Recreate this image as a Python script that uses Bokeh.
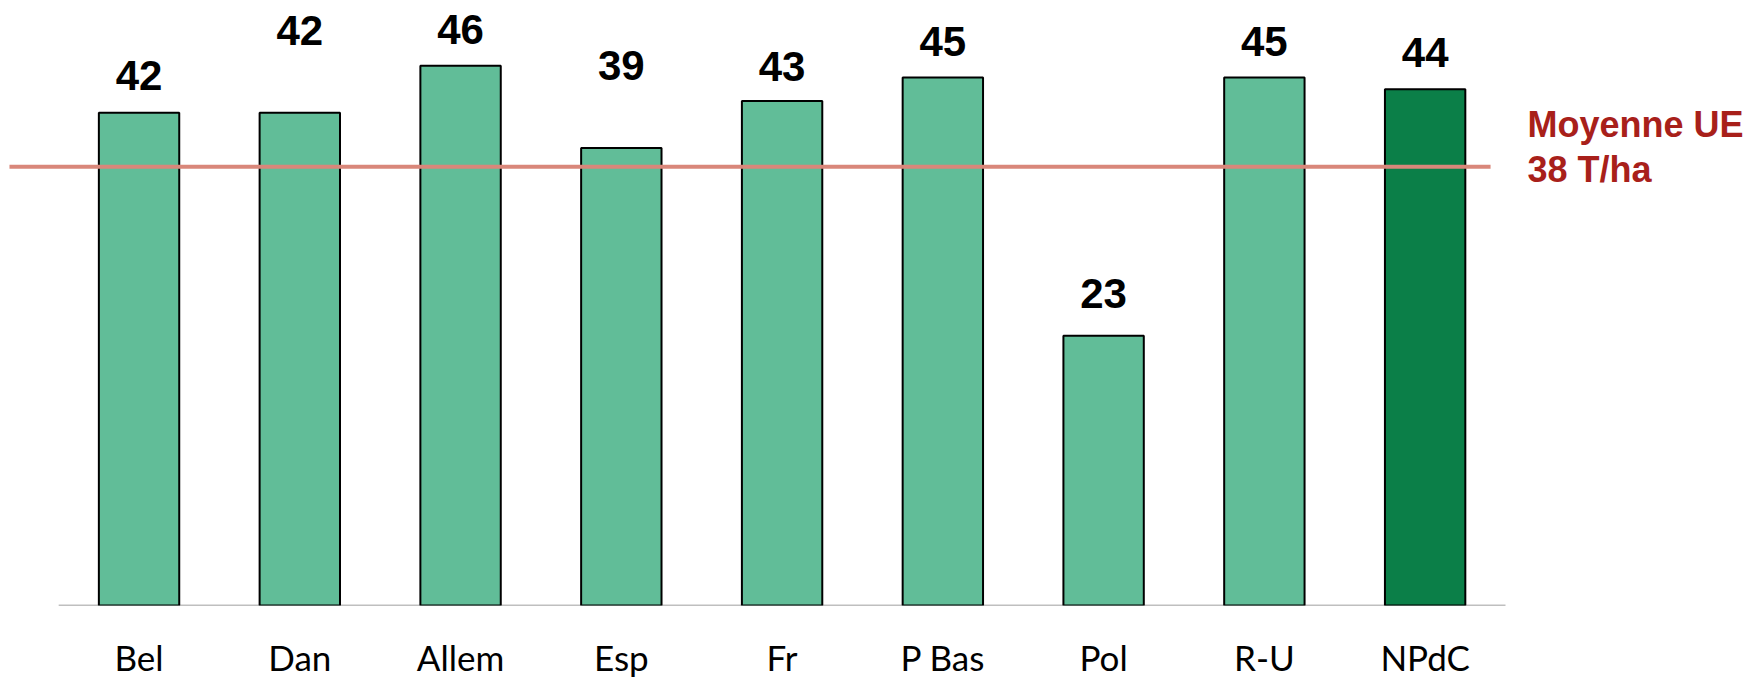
from bokeh.plotting import figure
from bokeh.models import ColumnDataSource, Range1d, FixedTicker, LinearAxis
from bokeh.core.properties import value
from bokeh.embed import file_html
from bokeh.resources import INLINE

# ---- data ----
categories = ["Bel", "Dan", "Allem", "Esp", "Fr", "P Bas", "Pol", "R-U", "NPdC"]
yields = [42, 42, 46, 39, 43, 45, 23, 45, 44]
highlight = [False, False, False, False, False, False, False, False, True]
eu_mean_position = 37.4
eu_mean_label = ["Moyenne UE", "38 T/ha"]

# ---- layout / style (not data) ----
label_gap_px = [37, 82, 36, 82, 35, 36, 42, 36, 37]
LIGHT = "#61BD98"
DARK = "#0B7F48"
RED = "#A8201A"

idx = list(range(len(categories)))
source = ColumnDataSource(dict(
    x=idx,
    top=yields,
    label=[str(v) for v in yields],
    color=[DARK if h else LIGHT for h in highlight],
    yoff=[-g for g in label_gap_px],
))

px_per_cat = 160.76
x0_px = 138.55
frame_w = 1752
frame_h = 605
px_per_unit = 11.732

p = figure(
    frame_width=frame_w, frame_height=frame_h,
    x_range=Range1d(-x0_px / px_per_cat, (frame_w - x0_px) / px_per_cat),
    y_range=Range1d(0, frame_h / px_per_unit),
    output_backend="svg", toolbar_location=None,
    min_border=0, min_border_left=0, min_border_right=0, min_border_top=0,
    x_axis_location=None, y_axis_location=None,
)
p.outline_line_color = None
p.xgrid.visible = False
p.ygrid.visible = False
p.background_fill_color = "white"
p.border_fill_color = "white"

xaxis = LinearAxis(
    ticker=FixedTicker(ticks=idx),
    major_label_overrides={i: c for i, c in enumerate(categories)},
)
xaxis.axis_line_color = None
xaxis.major_tick_line_color = None
xaxis.minor_tick_line_color = None
xaxis.major_tick_out = 0
xaxis.major_tick_in = 0
xaxis.major_label_standoff = 30
xaxis.major_label_text_font = "Lato"
xaxis.major_label_text_font_size = "35px"
xaxis.major_label_text_color = "black"
p.add_layout(xaxis, "below")

# baseline
p.segment(x0=[-0.5], y0=[0], x1=[len(categories) - 0.5], y1=[0],
          line_color="#808080", line_width=1.5)

# bars
p.vbar(x="x", top="top", bottom=0, width=0.5, source=source,
       fill_color="color", line_color="black", line_width=2)

# value labels
p.text(x="x", y="top", text="label", source=source, y_offset="yoff",
       text_align="center", text_baseline="alphabetic",
       text_font=value("Liberation Sans"), text_font_style="bold",
       text_font_size="42px", text_color="black")

# EU mean line
p.segment(x0=[-0.806], y0=[eu_mean_position], x1=[8.407], y1=[eu_mean_position],
          line_color="#D9877A", line_width=4)

lx = (1527 - x0_px) / px_per_cat
p.text(x=[lx, lx], y=[eu_mean_position, eu_mean_position], text=eu_mean_label,
       y_offset=[-42, 3], text_align="left", text_baseline="alphabetic",
       text_font=value("Liberation Sans"), text_font_style="bold",
       text_font_size="36px", text_color=RED)

open("out.html", "w").write(file_html(p, INLINE))
